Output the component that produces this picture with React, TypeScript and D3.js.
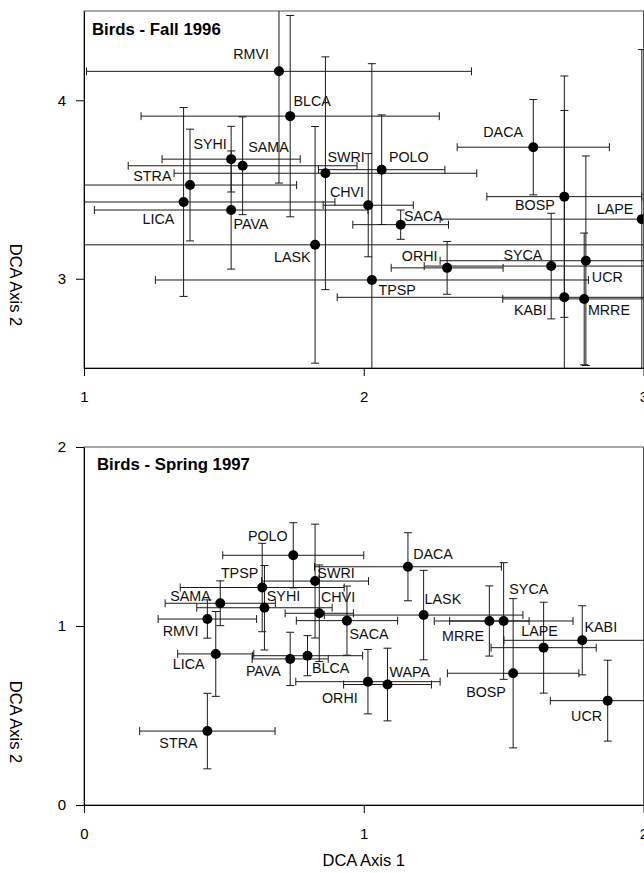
import React, { useEffect, useRef } from "react";
import * as d3 from "d3";

// Fall 1996 ordination scores (DCA axis 1 / axis 2) with error bars
const fallSpecies = ["RMVI", "BLCA", "SYHI", "SAMA", "STRA", "LICA", "PAVA", "SWRI", "POLO", "CHVI", "SACA", "DACA", "BOSP", "LAPE", "LASK", "ORHI", "SYCA", "UCR", "TPSP", "KABI", "MRRE"];
const fallX = [1.697, 1.737, 1.526, 1.567, 1.379, 1.356, 1.526, 1.863, 2.064, 2.016, 2.132, 2.606, 2.717, 2.994, 1.826, 2.298, 2.67, 2.794, 2.029, 2.717, 2.788];
const fallY = [4.162, 3.911, 3.67, 3.633, 3.525, 3.43, 3.385, 3.591, 3.611, 3.412, 3.303, 3.737, 3.46, 3.334, 3.19, 3.061, 3.071, 3.101, 2.993, 2.896, 2.887];
const fallXErr = [0.688, 0.533, 0.247, 0.409, 0.381, 0.541, 0.489, 0.541, 0.226, 0.161, 0.171, 0.272, 0.277, 0.721, 1.25, 0.2, 0.454, 0.521, 0.774, 0.812, 0.291];
const fallYErr = [0.626, 0.564, 0.184, 0.274, 0.313, 0.529, 0.331, 0.652, 0.307, 0.289, 0.082, 0.267, 0.676, 0.95, 0.663, 0.148, 0.296, 0.587, 1.212, 1.047, 0.369];

// Spring 1997
const springSpecies = ["POLO", "DACA", "TPSP", "SWRI", "SAMA", "SYHI", "CHVI", "LASK", "SYCA", "RMVI", "SACA", "MRRE", "LAPE", "KABI", "LICA", "PAVA", "BLCA", "WAPA", "ORHI", "BOSP", "UCR", "STRA"];
const springX = [0.748, 1.158, 0.637, 0.826, 0.487, 0.645, 0.841, 1.214, 1.5, 0.441, 0.94, 1.449, 1.643, 1.781, 0.471, 0.737, 0.799, 1.085, 1.015, 1.534, 1.872, 0.441];
const springY = [1.395, 1.331, 1.215, 1.251, 1.127, 1.102, 1.071, 1.061, 1.028, 1.039, 1.03, 1.028, 0.879, 0.92, 0.844, 0.816, 0.834, 0.673, 0.689, 0.736, 0.583, 0.413];
const springXErr = [0.252, 0.334, 0.293, 0.191, 0.197, 0.242, 0.122, 0.355, 0.248, 0.176, 0.181, 0.142, 0.188, 0.28, 0.136, 0.136, 0.197, 0.157, 0.258, 0.235, 0.205, 0.242];
const springYErr = [0.182, 0.19, 0.247, 0.318, 0.125, 0.236, 0.27, 0.25, 0.326, 0.107, 0.193, 0.196, 0.254, 0.193, 0.237, 0.149, 0.112, 0.203, 0.18, 0.417, 0.226, 0.211];

// label placement (px offset from the point to text start / baseline)
const fallLabelPos: Record<string, [number, number]> = {
  RMVI: [-45.7, -12.7], BLCA: [3.3, -10], SYHI: [-37.7, -9.7], SAMA: [5.6, -14], STRA: [-56.7, -4],
  LICA: [-41, 22], PAVA: [2.3, 19], SWRI: [2, -11], POLO: [7.3, -7.4], CHVI: [-38.3, -8.6],
  SACA: [3.3, -3.3], DACA: [-50, -9.7], BOSP: [-49.3, 13.3], LAPE: [-45, -5], LASK: [-41, 17.3],
  ORHI: [-45.3, -7], SYCA: [-47.7, -6.3], UCR: [6, 21], TPSP: [6.6, 14.7], KABI: [-50.3, 18], MRRE: [3.7, 16.4]
};
const springLabelPos: Record<string, [number, number]> = {
  POLO: [-45.3, -14.6], DACA: [5.2, -7.4], TPSP: [-41.3, -9.3], SWRI: [2.3, -2.7], SAMA: [-50, -2.6],
  SYHI: [2.4, -7.1], CHVI: [1.7, -11], LASK: [1, -11], SYCA: [5.7, -27], RMVI: [-44.6, 17],
  SACA: [2.6, 18.7], MRRE: [-47.3, 19.7], LAPE: [-22.3, -11.7], KABI: [2.3, -8.3], LICA: [-43, 15],
  PAVA: [-44.3, 16.7], BLCA: [4.4, 17], WAPA: [2, -7.8], ORHI: [-46, 21.6], BOSP: [-47, 24],
  UCR: [-36.6, 20.3], STRA: [-48, 17.3]
};

const width = 644;
const height = 873;
const left = 84;
const right = 643.5;
const font = "'Liberation Sans', Arial, sans-serif";

const panels = [
  {
    id: "fall", title: "Birds - Fall 1996", titleX: 92, titleY: 35,
    xDomain: [1, 3], yDomain: [2.5, 4.5], top: 11, bottom: 368,
    xTicks: [1, 2, 3], yTicks: [3, 4], yTitle: 285,
    species: fallSpecies, xs: fallX, ys: fallY, xe: fallXErr, ye: fallYErr, labels: fallLabelPos
  },
  {
    id: "spring", title: "Birds - Spring 1997", titleX: 97, titleY: 470,
    xDomain: [0, 2], yDomain: [0, 2], top: 447, bottom: 805,
    xTicks: [0, 1, 2], yTicks: [0, 1, 2], yTitle: 722,
    species: springSpecies, xs: springX, ys: springY, xe: springXErr, ye: springYErr, labels: springLabelPos
  }
];

const App = () => {
  const svgRef = useRef<SVGSVGElement>(null);

  useEffect(() => {
    const svg = d3.select(svgRef.current);
    svg.selectAll("*").remove();
    const cap = 4;

    panels.forEach((p) => {
      const x = d3.scaleLinear().domain(p.xDomain).range([left, right]);
      const y = d3.scaleLinear().domain(p.yDomain).range([p.bottom, p.top]);

      svg.append("clipPath").attr("id", `clip-${p.id}`)
        .append("rect")
        .attr("x", left).attr("y", p.top)
        .attr("width", right - left).attr("height", p.bottom - p.top);

      // frame
      svg.append("rect")
        .attr("x", left).attr("y", p.top)
        .attr("width", right - left).attr("height", p.bottom - p.top)
        .attr("fill", "none").attr("stroke", "#555").attr("stroke-width", 1);

      const g = svg.append("g").attr("clip-path", `url(#clip-${p.id})`);
      const data = p.species.map((s, i) => ({ s, x: p.xs[i], y: p.ys[i], xe: p.xe[i], ye: p.ye[i] }));

      data.forEach((d) => {
        const cx = x(d.x), cy = y(d.y);
        const x0 = x(d.x - d.xe), x1 = x(d.x + d.xe);
        const y0 = y(d.y - d.ye), y1 = y(d.y + d.ye);
        const bar = g.append("g").attr("stroke", "#1a1a1a").attr("stroke-width", 1);
        bar.append("line").attr("x1", x0).attr("x2", x1).attr("y1", cy).attr("y2", cy);
        bar.append("line").attr("x1", x0).attr("x2", x0).attr("y1", cy - cap).attr("y2", cy + cap);
        bar.append("line").attr("x1", x1).attr("x2", x1).attr("y1", cy - cap).attr("y2", cy + cap);
        bar.append("line").attr("x1", cx).attr("x2", cx).attr("y1", y0).attr("y2", y1);
        bar.append("line").attr("x1", cx - cap).attr("x2", cx + cap).attr("y1", y0).attr("y2", y0);
        bar.append("line").attr("x1", cx - cap).attr("x2", cx + cap).attr("y1", y1).attr("y2", y1);
      });

      g.selectAll("circle")
        .data(data)
        .enter()
        .append("circle")
        .attr("cx", (d) => x(d.x))
        .attr("cy", (d) => y(d.y))
        .attr("r", 5)
        .attr("fill", "#000");

      svg.append("g")
        .selectAll("text")
        .data(data)
        .enter()
        .append("text")
        .attr("x", (d) => x(d.x) + p.labels[d.s][0])
        .attr("y", (d) => y(d.y) + p.labels[d.s][1])
        .text((d) => d.s)
        .style("font-family", font)
        .style("font-size", "14.3px")
        .style("fill", "#111");

      // axes
      const xAxis = svg.append("g")
        .attr("transform", `translate(0,${p.bottom})`)
        .call(d3.axisBottom(x).tickValues(p.xTicks).tickFormat(d3.format("d")).tickSize(8).tickSizeOuter(0).tickPadding(15));
      const yAxis = svg.append("g")
        .attr("transform", `translate(${left},0)`)
        .call(d3.axisLeft(y).tickValues(p.yTicks).tickFormat(d3.format("d")).tickSize(8).tickSizeOuter(0).tickPadding(10));
      [xAxis, yAxis].forEach((a) => {
        a.select(".domain").attr("stroke", "#000");
        a.selectAll("line").attr("stroke", "#000");
        a.selectAll("text")
          .style("font-family", font)
          .style("font-size", "15px")
          .style("fill", "#000");
      });

      svg.append("text")
        .attr("x", p.titleX)
        .attr("y", p.titleY)
        .text(p.title)
        .style("font-family", font)
        .style("font-size", "16.8px")
        .style("font-weight", "bold");

      svg.append("text")
        .attr("transform", `translate(16,${p.yTitle}) rotate(90)`)
        .attr("text-anchor", "middle")
        .attr("dy", "0.35em")
        .text("DCA Axis 2")
        .style("font-family", font)
        .style("font-size", "16.5px");
    });

    svg.append("text")
      .attr("x", (left + right) / 2)
      .attr("y", 866)
      .attr("text-anchor", "middle")
      .text("DCA Axis 1")
      .style("font-family", font)
      .style("font-size", "16.5px");
  }, []);

  return (
    <svg
      ref={svgRef}
      width={width}
      height={height}
      style={{ position: "absolute", left: 0, top: 0, background: "#fff" }}
    />
  );
};

export default App;
